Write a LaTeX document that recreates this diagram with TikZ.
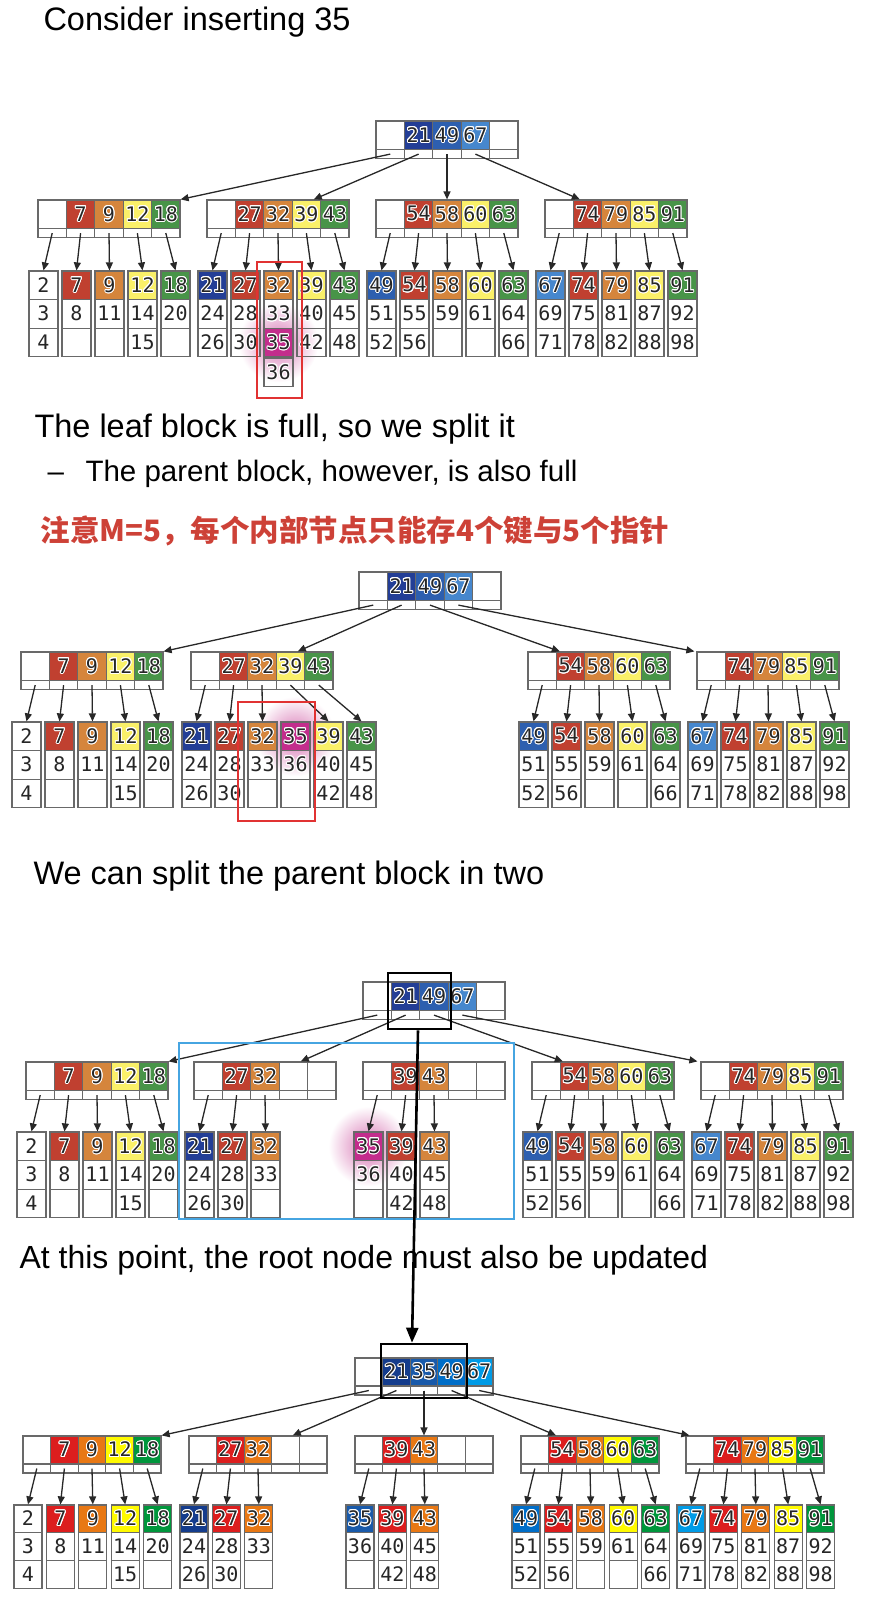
\documentclass[tikz,border=0pt]{standalone}
\usepackage{fontspec}
\setmainfont{Liberation Sans}
\newfontfamily\numfont{DejaVu Sans Mono}
\newfontfamily\cjkfont{Noto Sans CJK SC}
\usepackage[copies]{contour}
\contourlength{1pt}
\usetikzlibrary{arrows.meta,calc,positioning,backgrounds}

\definecolor{kred}{RGB}{192,64,48}
\definecolor{korange}{RGB}{213,133,60}
\definecolor{kyellow}{RGB}{250,240,105}
\definecolor{kgreen}{RGB}{72,148,72}
\definecolor{knavy}{RGB}{35,62,150}
\definecolor{kblue}{RGB}{45,95,175}
\definecolor{klblue}{RGB}{70,135,205}
\definecolor{kmag}{RGB}{195,45,140}
\definecolor{nred}{RGB}{220,30,30}
\definecolor{norange}{RGB}{232,120,20}
\definecolor{nyellow}{RGB}{255,250,0}
\definecolor{ngreen}{RGB}{0,150,60}
\definecolor{nnavy}{RGB}{20,60,140}
\definecolor{nmid}{RGB}{25,90,170}
\definecolor{nblue}{RGB}{0,110,200}
\definecolor{nlblue}{RGB}{0,155,230}
\definecolor{cellgray}{RGB}{105,105,105}
\definecolor{arrowgray}{RGB}{40,40,40}
\definecolor{notered}{RGB}{205,65,55}
\definecolor{boxred}{RGB}{225,50,50}
\definecolor{boxblue}{RGB}{70,165,225}

\newcommand{\cw}{28.4}
\newcommand{\kh}{28.6}
\newcommand{\ph}{9}
\newcommand{\lw}{29}
\newcommand{\lh}{28.6}
\newcommand{\lp}{33}

\tikzset{
    cell/.style={draw=cellgray, line width=1.2pt, inner sep=0pt, text=black!85, font=\numfont\fontsize{20}{20}\selectfont},
    keycell/.style={cell, minimum width=\cw*1pt, minimum height=\kh*1pt},
    ptrcell/.style={cell, minimum width=\cw*1pt, minimum height=\ph*1pt},
    leafcell/.style={cell, minimum width=\lw*1pt, minimum height=\lh*1pt},
    ptr/.style={->, line width=1.3pt, draw=arrowgray, fill=arrowgray},
    slide/.style={anchor=base west, font=\fontsize{32.5}{36}\selectfont},
    holdbox/.style={draw=black, line width=2.6pt, inner sep=0pt},
}

\newcommand{\keyblock}[4]{%
    \foreach \cc/\kv [count=\i from 0] in {#4} {
        \node[keycell, fill=\cc] (#1-k\i) at ({#2+(\i+0.5)*\cw}, {#3+0.5*\kh}) {\contour{white}{\kv}};
        \node[ptrcell] (#1-p\i) at ({#2+(\i+0.5)*\cw}, {#3+\kh+0.5*\ph}) {};
    }
}

\newcommand{\leafgroup}[4]{%
    \foreach \j/\cc/\va/\vb/\vc in {#4} {
        \node[leafcell, fill=\cc] (#1-\j-0) at ({#2+\j*\lp+0.5*\lw}, {#3+0.5*\lh}) {\contour{white}{\va}};
        \node[leafcell] (#1-\j-1) at ({#2+\j*\lp+0.5*\lw}, {#3+1.5*\lh}) {\contour{white}{\vb}};
        \node[leafcell] (#1-\j-2) at ({#2+\j*\lp+0.5*\lw}, {#3+2.5*\lh}) {\contour{white}{\vc}};
    }
}

\newcommand{\pointers}[3]{%
    \foreach \a/\b in {#3} \draw[ptr] (#1-p\a.center) -- (#2-\b-0.north);
}

\begin{document}
\begin{tikzpicture}[x=1pt, y=-1pt, >={Triangle[length=8pt,width=7pt]}]

    \useasboundingbox (0,0) rectangle (872,1615);

    \node[slide] (title) at (40,30) {Consider inserting 35};

    \keyblock{r1}{376}{121}{white/{}, knavy/21, kblue/49, klblue/67, white/{}}
    \keyblock{a1}{38}{200}{white/{}, kred/7, korange/9, kyellow/12, kgreen/18}
    \keyblock{b1}{207}{200}{white/{}, kred/27, korange/32, kyellow/39, kgreen/43}
    \keyblock{c1}{376}{200}{white/{}, kred/54, korange/58, kyellow/60, kgreen/63}
    \keyblock{d1}{545}{200}{white/{}, kred/74, korange/79, kyellow/85, kgreen/91}

    \leafgroup{la1}{29}{271}{0/white/2/3/4, 1/kred/7/8/{}, 2/korange/9/11/{}, 3/kyellow/12/14/15, 4/kgreen/18/20/{}}
    \leafgroup{lb1}{198}{271}{0/knavy/21/24/26, 1/kred/27/28/30, 2/korange/32/33/{}, 3/kyellow/39/40/42, 4/kgreen/43/45/48}
    \leafgroup{lc1}{367}{271}{0/kblue/49/51/52, 1/kred/54/55/56, 2/korange/58/59/{}, 3/kyellow/60/61/{}, 4/kgreen/63/64/66}
    \leafgroup{ld1}{536}{271}{0/klblue/67/69/71, 1/kred/74/75/78, 2/korange/79/81/82, 3/kyellow/85/87/88, 4/kgreen/91/92/98}
    \node[leafcell, fill=kmag] (lb1-35) at (lb1-2-2) {\contour{white}{35}};
    \node[leafcell, below=0pt of lb1-35] (lb1-36) {\contour{white}{36}};

    \draw[ptr] (r1-p0.center) -- (a1-k4.north east);
    \draw[ptr] (r1-p1.center) -- ($(b1-k3.north)!0.5!(b1-k3.north east)$);
    \draw[ptr] (r1-p2.center) -- (c1-k2.north);
    \draw[ptr] (r1-p3.center) -- ([xshift=7pt]d1-k1.north west);
    \pointers{a1}{la1}{0/0,1/1,2/2,3/3,4/4}
    \pointers{b1}{lb1}{0/0,1/1,2/2,3/3,4/4}
    \pointers{c1}{lc1}{0/0,1/1,2/2,3/3,4/4}
    \pointers{d1}{ld1}{0/0,1/1,2/2,3/3,4/4}

    \draw[boxred, line width=2.4pt] (257,262) rectangle (302,398);

    \node[slide] (leaftext) at (31,437) {The leaf block is full, so we split it};
    \node[slide, font=\fontsize{29.5}{32}\selectfont] (dash) at (44,481) {–};
    \node[slide, font=\fontsize{29.5}{32}\selectfont] (parenttext) at (82,481) {The parent block, however, is also full};
    \node[anchor=base west, text=notered, font=\cjkfont\bfseries\fontsize{29.5}{31}\selectfont] (note) at (37,541) {注意M=5，每个内部节点只能存4个键与5个指针};

    \keyblock{r2}{359}{572}{white/{}, knavy/21, kblue/49, klblue/67, white/{}}
    \keyblock{a2}{21}{652}{white/{}, kred/7, korange/9, kyellow/12, kgreen/18}
    \keyblock{b2}{191}{652}{white/{}, kred/27, korange/32, kyellow/39, kgreen/43}
    \keyblock{c2}{528}{652}{white/{}, kred/54, korange/58, kyellow/60, kgreen/63}
    \keyblock{d2}{697}{652}{white/{}, kred/74, korange/79, kyellow/85, kgreen/91}

    \leafgroup{la2}{12}{722}{0/white/2/3/4, 1/kred/7/8/{}, 2/korange/9/11/{}, 3/kyellow/12/14/15, 4/kgreen/18/20/{}}
    \leafgroup{lb2}{182}{722}{0/knavy/21/24/26, 1/kred/27/28/30, 2/korange/32/33/{}, 3/kmag/35/36/{}, 4/kyellow/39/40/42, 5/kgreen/43/45/48}
    \leafgroup{lc2}{519}{722}{0/kblue/49/51/52, 1/kred/54/55/56, 2/korange/58/59/{}, 3/kyellow/60/61/{}, 4/kgreen/63/64/66}
    \leafgroup{ld2}{688}{722}{0/klblue/67/69/71, 1/kred/74/75/78, 2/korange/79/81/82, 3/kyellow/85/87/88, 4/kgreen/91/92/98}

    \draw[ptr] (r2-p0.center) -- (a2-k4.north east);
    \draw[ptr] (r2-p1.center) -- ($(b2-k3.north)!0.5!(b2-k3.north east)$);
    \draw[ptr] (r2-p2.center) -- ([xshift=4pt]c2-k1.north west);
    \draw[ptr] (r2-p3.center) -- ([xshift=-2pt]d2-k0.north west);
    \pointers{a2}{la2}{0/0,1/1,2/2,3/3,4/4}
    \pointers{b2}{lb2}{0/0,1/1,2/2,3/4,4/5}
    \pointers{c2}{lc2}{0/0,1/1,2/2,3/3,4/4}
    \pointers{d2}{ld2}{0/0,1/1,2/2,3/3,4/4}

    \draw[boxred, line width=2.4pt] (238,702) rectangle (315,821);

    \node[slide] (splittext) at (30,884) {We can split the parent block in two};

    \keyblock{r3}{363}{982}{white/{}, knavy/21, kblue/49, klblue/67, white/{}}
    \keyblock{a3}{26}{1062}{white/{}, kred/7, korange/9, kyellow/12, kgreen/18}
    \keyblock{b3}{194}{1062}{white/{}, kred/27, korange/32, white/{}, white/{}}
    \keyblock{c3}{363}{1062}{white/{}, kred/39, korange/43, white/{}, white/{}}
    \keyblock{d3}{532}{1062}{white/{}, kred/54, korange/58, kyellow/60, kgreen/63}
    \keyblock{e3}{701}{1062}{white/{}, kred/74, korange/79, kyellow/85, kgreen/91}

    \leafgroup{la3}{17}{1132}{0/white/2/3/4, 1/kred/7/8/{}, 2/korange/9/11/{}, 3/kyellow/12/14/15, 4/kgreen/18/20/{}}
    \leafgroup{lb3}{185}{1132}{0/knavy/21/24/26, 1/kred/27/28/30, 2/korange/32/33/{}}
    \leafgroup{lc3}{354}{1132}{0/kmag/35/36/{}, 1/kred/39/40/42, 2/korange/43/45/48}
    \leafgroup{ld3}{523}{1132}{0/kblue/49/51/52, 1/kred/54/55/56, 2/korange/58/59/{}, 3/kyellow/60/61/{}, 4/kgreen/63/64/66}
    \leafgroup{le3}{692}{1132}{0/klblue/67/69/71, 1/kred/74/75/78, 2/korange/79/81/82, 3/kyellow/85/87/88, 4/kgreen/91/92/98}

    \draw[ptr] (r3-p0.center) -- (a3-k4.north east);
    \draw[ptr] (r3-p1.center) -- ($(b3-k3.north)!0.5!(b3-k3.north east)$);
    \draw[ptr] (r3-p2.center) -- ([xshift=3pt]d3-k1.north west);
    \draw[ptr] (r3-p3.center) -- ([xshift=-3pt]e3-k0.north west);
    \pointers{a3}{la3}{0/0,1/1,2/2,3/3,4/4}
    \pointers{b3}{lb3}{0/0,1/1,2/2}
    \pointers{c3}{lc3}{0/0,1/1,2/2}
    \pointers{d3}{ld3}{0/0,1/1,2/2,3/3,4/4}
    \pointers{e3}{le3}{0/0,1/1,2/2,3/3,4/4}

    \draw[boxblue, line width=2.4pt] (179,1043) rectangle (514,1219);
    \node[holdbox, minimum width=63pt, minimum height=56pt] (hold3) at (419.5,1001) {};

    \node[slide, font=\fontsize{32}{36}\selectfont] (roottext) at (16,1268) {At this point, the root node must also be updated};

    \renewcommand{\cw}{27.6}
    \renewcommand{\kh}{28}
    \renewcommand{\lw}{28}
    \renewcommand{\lh}{27.8}
    \renewcommand{\lp}{32.4}

    \keyblock{r4}{355}{1358}{white/{}, nnavy/21, nmid/35, nblue/49, nlblue/67}
    \keyblock{a4}{23}{1436}{white/{}, nred/7, norange/9, nyellow/12, ngreen/18}
    \keyblock{b4}{189}{1436}{white/{}, nred/27, norange/32, white/{}, white/{}}
    \keyblock{c4}{355}{1436}{white/{}, nred/39, norange/43, white/{}, white/{}}
    \keyblock{d4}{521}{1436}{white/{}, nred/54, norange/58, nyellow/60, ngreen/63}
    \keyblock{e4}{686}{1436}{white/{}, nred/74, norange/79, nyellow/85, ngreen/91}

    \leafgroup{la4}{14}{1505}{0/white/2/3/4, 1/nred/7/8/{}, 2/norange/9/11/{}, 3/nyellow/12/14/15, 4/ngreen/18/20/{}}
    \leafgroup{lb4}{180}{1505}{0/nnavy/21/24/26, 1/nred/27/28/30, 2/norange/32/33/{}}
    \leafgroup{lc4}{346}{1505}{0/nmid/35/36/{}, 1/nred/39/40/42, 2/norange/43/45/48}
    \leafgroup{ld4}{512}{1505}{0/nblue/49/51/52, 1/nred/54/55/56, 2/norange/58/59/{}, 3/nyellow/60/61/{}, 4/ngreen/63/64/66}
    \leafgroup{le4}{677}{1505}{0/nlblue/67/69/71, 1/nred/74/75/78, 2/norange/79/81/82, 3/nyellow/85/87/88, 4/ngreen/91/92/98}

    \draw[ptr] (r4-p0.center) -- (a4-k4.north east);
    \draw[ptr] (r4-p1.center) -- ($(b4-k3.north)!0.5!(b4-k3.north east)$);
    \draw[ptr] (r4-p2.center) -- (c4-k2.north);
    \draw[ptr] (r4-p3.center) -- ([xshift=8pt]d4-k1.north west);
    \draw[ptr] (r4-p4.center) -- ([xshift=4pt]e4-k0.north west);
    \pointers{a4}{la4}{0/0,1/1,2/2,3/3,4/4}
    \pointers{b4}{lb4}{0/0,1/1,2/2}
    \pointers{c4}{lc4}{0/0,1/1,2/2}
    \pointers{d4}{ld4}{0/0,1/1,2/2,3/3,4/4}
    \pointers{e4}{le4}{0/0,1/1,2/2,3/3,4/4}

    \node[holdbox, minimum width=86pt, minimum height=54pt] (hold4) at (424,1371) {};

    \draw[line width=2.6pt, -{Triangle[length=15pt,width=12pt]}] ([xshift=-1.5pt]hold3.south) -- ([xshift=-12pt]hold4.north);

    \begin{pgfonlayer}{background}
        \shade[inner color=kmag!65, outer color=white] (lb1-35.center) circle (40pt);
        \shade[inner color=kmag!65, outer color=white] (lb2-3-0.center) circle (40pt);
        \shade[inner color=kmag!65, outer color=white] (lc3-0-0.center) circle (40pt);
    \end{pgfonlayer}

\end{tikzpicture}
\end{document}
